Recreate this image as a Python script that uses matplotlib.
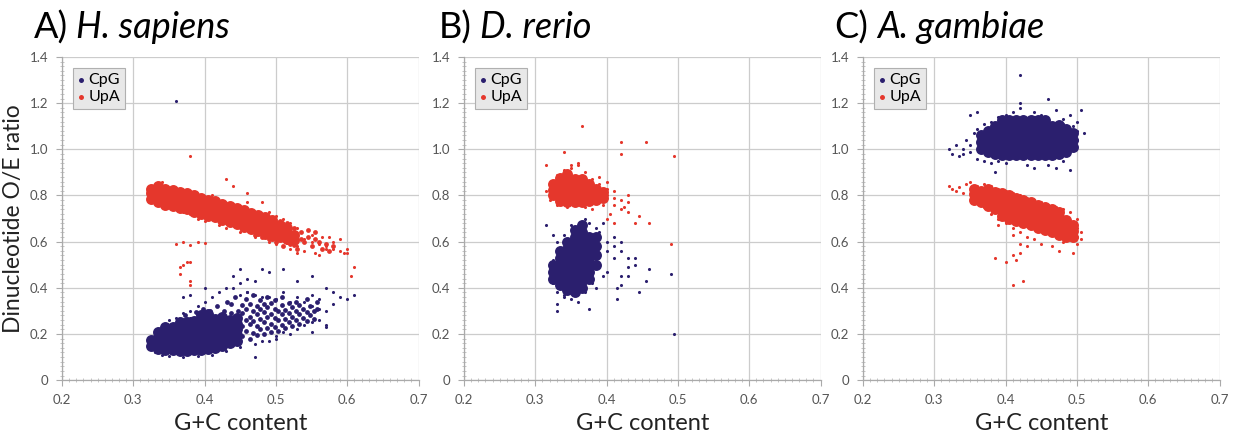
import numpy as np
import matplotlib.pyplot as plt
from matplotlib.ticker import MultipleLocator, FuncFormatter

plt.rcParams['font.family'] = ['Lato', 'DejaVu Sans']

# colours
navy = '#2b1f6e'
red = '#e5372c'

# ---------------- data ----------------
# dense cores: G+C column -> O/E values read inside the solid part of each cloud
a_upa_core = {0.325: [0.785, 0.81, 0.83], 0.335: [0.77, 0.795, 0.82, 0.84],
              0.345: [0.76, 0.785, 0.81, 0.83], 0.355: [0.755, 0.78, 0.805, 0.825],
              0.365: [0.745, 0.77, 0.795, 0.815], 0.375: [0.74, 0.765, 0.79, 0.81],
              0.385: [0.73, 0.755, 0.78, 0.80], 0.395: [0.72, 0.745, 0.77, 0.79],
              0.405: [0.71, 0.735, 0.76, 0.78], 0.415: [0.705, 0.73, 0.755, 0.775],
              0.425: [0.695, 0.72, 0.745, 0.765], 0.435: [0.685, 0.71, 0.735, 0.755],
              0.445: [0.675, 0.70, 0.725, 0.745], 0.455: [0.665, 0.69, 0.715, 0.735],
              0.465: [0.655, 0.68, 0.705, 0.725], 0.475: [0.645, 0.67, 0.695, 0.715],
              0.485: [0.635, 0.66, 0.685, 0.705], 0.495: [0.625, 0.65, 0.675, 0.695],
              0.505: [0.62, 0.645, 0.67], 0.515: [0.61, 0.635, 0.66], 0.525: [0.605, 0.63]}
a_cpg_core = {0.325: [0.15, 0.175], 0.335: [0.135, 0.16, 0.185, 0.21],
              0.345: [0.13, 0.155, 0.18, 0.205, 0.23], 0.355: [0.13, 0.155, 0.18, 0.205, 0.23],
              0.365: [0.125, 0.15, 0.175, 0.20, 0.225, 0.25],
              0.375: [0.125, 0.15, 0.175, 0.20, 0.225, 0.25],
              0.385: [0.13, 0.155, 0.18, 0.205, 0.23, 0.255],
              0.395: [0.13, 0.155, 0.18, 0.205, 0.23, 0.255, 0.28],
              0.405: [0.135, 0.16, 0.185, 0.21, 0.235, 0.26, 0.285],
              0.415: [0.14, 0.165, 0.19, 0.215, 0.24, 0.265],
              0.425: [0.15, 0.175, 0.20, 0.225, 0.25, 0.275],
              0.435: [0.16, 0.185, 0.21, 0.235, 0.26], 0.445: [0.17, 0.195, 0.22, 0.245, 0.27]}
# medium-density parts of the H. sapiens clouds
a_cpg_mid = {0.452: [0.19, 0.235, 0.29, 0.325], 0.458: [0.215, 0.26, 0.31, 0.35],
             0.463: [0.18, 0.245, 0.275, 0.33], 0.468: [0.205, 0.255, 0.30, 0.37],
             0.473: [0.195, 0.235, 0.285, 0.32], 0.478: [0.22, 0.265, 0.31, 0.345],
             0.483: [0.20, 0.25, 0.295, 0.33], 0.488: [0.225, 0.275, 0.315, 0.36],
             0.493: [0.21, 0.245, 0.285, 0.335], 0.498: [0.23, 0.27, 0.31, 0.345],
             0.503: [0.215, 0.26, 0.30], 0.508: [0.24, 0.285, 0.325, 0.36],
             0.513: [0.225, 0.265, 0.305], 0.518: [0.25, 0.29, 0.335],
             0.523: [0.235, 0.275, 0.315], 0.528: [0.26, 0.30, 0.34],
             0.533: [0.245, 0.285, 0.325], 0.538: [0.27, 0.31], 0.543: [0.255, 0.295, 0.35],
             0.548: [0.28, 0.32], 0.553: [0.265, 0.30], 0.558: [0.31, 0.34],
             0.372: [0.28], 0.388: [0.295], 0.398: [0.31], 0.407: [0.30], 0.417: [0.32],
             0.427: [0.30], 0.437: [0.29, 0.33], 0.447: [0.30], 0.442: [0.36], 0.432: [0.34]}
a_upa_mid = {0.47: [0.63], 0.48: [0.62], 0.49: [0.61], 0.50: [0.60], 0.505: [0.69],
             0.51: [0.58], 0.515: [0.68, 0.60], 0.52: [0.59], 0.525: [0.66, 0.585],
             0.53: [0.57], 0.535: [0.64, 0.61], 0.54: [0.60], 0.545: [0.62, 0.65],
             0.55: [0.58], 0.555: [0.64, 0.61], 0.56: [0.60], 0.565: [0.57], 0.57: [0.59],
             0.575: [0.56], 0.58: [0.58]}

a_upa_x = [0.335, 0.34, 0.345, 0.355, 0.36, 0.37, 0.38, 0.39, 0.40, 0.405, 0.41, 0.42, 0.43,
           0.44, 0.45, 0.46, 0.47, 0.48, 0.49, 0.50, 0.51, 0.52, 0.53, 0.54, 0.55, 0.56,
           0.57, 0.58, 0.59, 0.60, 0.61, 0.595, 0.575, 0.565, 0.55, 0.53, 0.52, 0.51, 0.50,
           0.49, 0.48, 0.46, 0.44, 0.35, 0.36, 0.37, 0.38, 0.39, 0.40, 0.42, 0.43, 0.45,
           0.47, 0.49, 0.50, 0.51, 0.52, 0.53, 0.54, 0.555, 0.56, 0.57, 0.58, 0.59, 0.60,
           0.605, 0.52, 0.53, 0.38, 0.36, 0.38, 0.39, 0.37, 0.375, 0.38, 0.365, 0.38, 0.38,
           0.365, 0.40, 0.37, 0.43, 0.46]
a_upa_y = [0.85, 0.86, 0.84, 0.83, 0.82, 0.81, 0.80, 0.79, 0.78, 0.77, 0.80, 0.76, 0.75,
           0.74, 0.73, 0.72, 0.70, 0.69, 0.68, 0.67, 0.65, 0.64, 0.62, 0.61, 0.60, 0.59,
           0.58, 0.57, 0.56, 0.55, 0.49, 0.55, 0.62, 0.62, 0.63, 0.66, 0.68, 0.70, 0.71,
           0.73, 0.77, 0.77, 0.84, 0.76, 0.74, 0.73, 0.72, 0.70, 0.69, 0.67, 0.66, 0.64,
           0.62, 0.60, 0.59, 0.58, 0.57, 0.58, 0.56, 0.55, 0.54, 0.57, 0.60, 0.61, 0.57,
           0.45, 0.60, 0.55, 0.97, 0.59, 0.585, 0.60, 0.50, 0.51, 0.51, 0.49, 0.43, 0.41,
           0.46, 0.595, 0.60, 0.87, 0.81]
a_cpg_x = [0.45, 0.45, 0.46, 0.47, 0.48, 0.49, 0.50, 0.50, 0.51, 0.51, 0.52, 0.53, 0.53,
           0.54, 0.54, 0.55, 0.55, 0.55, 0.56, 0.56, 0.56, 0.57, 0.57, 0.57, 0.58, 0.58,
           0.59, 0.60, 0.61, 0.55, 0.57, 0.55, 0.53, 0.51, 0.49, 0.48, 0.45, 0.47, 0.44,
           0.43, 0.42, 0.41, 0.40, 0.39, 0.38, 0.37, 0.36, 0.35, 0.46, 0.40, 0.38, 0.35,
           0.37, 0.39, 0.41, 0.43, 0.45, 0.47, 0.49, 0.33, 0.32, 0.34, 0.47, 0.44, 0.45,
           0.46, 0.40, 0.38, 0.37, 0.36, 0.52, 0.50, 0.48]
a_cpg_y = [0.17, 0.37, 0.38, 0.37, 0.36, 0.36, 0.35, 0.19, 0.38, 0.21, 0.34, 0.36, 0.22,
           0.34, 0.24, 0.32, 0.37, 0.25, 0.26, 0.31, 0.35, 0.24, 0.30, 0.40, 0.33, 0.38,
           0.36, 0.35, 0.37, 0.21, 0.23, 0.45, 0.43, 0.48, 0.47, 0.48, 0.48, 0.43, 0.45,
           0.40, 0.38, 0.36, 0.34, 0.32, 0.30, 0.29, 0.27, 0.26, 0.38, 0.30, 0.27, 0.105,
           0.10, 0.105, 0.11, 0.125, 0.145, 0.155, 0.17, 0.12, 0.18, 0.11, 0.10, 0.40, 0.42,
           0.44, 0.40, 0.37, 0.36, 1.21, 0.20, 0.18, 0.17]

# B) D. rerio
b_upa_core = {0.325: [0.80, 0.825, 0.85], 0.335: [0.775, 0.80, 0.825, 0.85, 0.875],
              0.345: [0.77, 0.795, 0.82, 0.845, 0.87, 0.895], 0.355: [0.77, 0.795, 0.82, 0.845, 0.87],
              0.365: [0.77, 0.795, 0.82, 0.845, 0.87], 0.375: [0.775, 0.80, 0.825, 0.85],
              0.385: [0.78, 0.805, 0.83], 0.395: [0.79, 0.815]}
b_cpg_core = {0.325: [0.44, 0.47, 0.50], 0.335: [0.41, 0.44, 0.47, 0.50, 0.53, 0.56],
              0.345: [0.39, 0.42, 0.45, 0.48, 0.51, 0.54, 0.57, 0.60],
              0.355: [0.38, 0.41, 0.44, 0.47, 0.50, 0.53, 0.56, 0.59, 0.62, 0.65],
              0.365: [0.40, 0.43, 0.46, 0.49, 0.52, 0.55, 0.58, 0.61, 0.64, 0.67],
              0.375: [0.44, 0.47, 0.50, 0.53, 0.56, 0.59, 0.62], 0.385: [0.50, 0.54, 0.58, 0.62]}
b_upa_x = [0.32, 0.32, 0.325, 0.33, 0.34, 0.35, 0.36, 0.37, 0.38, 0.39, 0.40, 0.40, 0.395,
           0.41, 0.41, 0.42, 0.42, 0.43, 0.43, 0.44, 0.445, 0.46, 0.40, 0.41, 0.38, 0.37,
           0.345, 0.33, 0.315, 0.34, 0.365, 0.42, 0.42, 0.455, 0.495, 0.49, 0.425, 0.43,
           0.40, 0.39, 0.315, 0.35, 0.36, 0.41, 0.405]
b_upa_y = [0.84, 0.78, 0.86, 0.89, 0.91, 0.92, 0.93, 0.90, 0.87, 0.85, 0.83, 0.80, 0.76,
           0.79, 0.76, 0.74, 0.78, 0.80, 0.73, 0.68, 0.71, 0.68, 0.70, 0.68, 0.74, 0.75,
           0.75, 0.76, 0.93, 0.99, 1.10, 1.03, 0.98, 1.03, 0.97, 0.59, 0.75, 0.77,
           0.86, 0.88, 0.82, 0.93, 0.94, 0.82, 0.72]
b_cpg_x = [0.325, 0.325, 0.33, 0.33, 0.34, 0.35, 0.36, 0.37, 0.38, 0.38, 0.39, 0.39, 0.39,
           0.40, 0.40, 0.395, 0.37, 0.35, 0.34, 0.41, 0.42, 0.42, 0.41, 0.43, 0.40, 0.42,
           0.43, 0.44, 0.46, 0.455, 0.445, 0.415, 0.42, 0.385, 0.415, 0.375, 0.33, 0.33,
           0.49, 0.495, 0.315, 0.44, 0.43, 0.41, 0.325, 0.395, 0.385, 0.375, 0.32, 0.34]
b_cpg_y = [0.42, 0.52, 0.38, 0.60, 0.36, 0.35, 0.34, 0.38, 0.42, 0.46, 0.50, 0.55, 0.64,
           0.60, 0.56, 0.68, 0.70, 0.67, 0.63, 0.62, 0.60, 0.56, 0.53, 0.53, 0.47, 0.45,
           0.45, 0.53, 0.48, 0.43, 0.38, 0.40, 0.41, 0.40, 0.35, 0.31, 0.30, 0.33,
           0.46, 0.20, 0.67, 0.50, 0.49, 0.58, 0.63, 0.45, 0.66, 0.68, 0.48, 0.37]

# C) A. gambiae
c_cpg_core = {0.365: [1.00, 1.03, 1.06], 0.375: [0.99, 1.02, 1.05, 1.08],
              0.385: [0.98, 1.01, 1.04, 1.07, 1.10],
              0.395: [0.975, 1.00, 1.025, 1.05, 1.075, 1.10, 1.125],
              0.405: [0.975, 1.00, 1.025, 1.05, 1.075, 1.10, 1.125],
              0.415: [0.975, 1.00, 1.025, 1.05, 1.075, 1.10, 1.125],
              0.425: [0.975, 1.00, 1.025, 1.05, 1.075, 1.10, 1.125],
              0.435: [0.975, 1.00, 1.025, 1.05, 1.075, 1.10, 1.125],
              0.445: [0.975, 1.00, 1.025, 1.05, 1.075, 1.10, 1.125],
              0.455: [0.975, 1.00, 1.025, 1.05, 1.075, 1.10, 1.125],
              0.465: [0.975, 1.00, 1.025, 1.05, 1.075, 1.10],
              0.475: [0.98, 1.005, 1.03, 1.055, 1.08, 1.105],
              0.485: [0.99, 1.015, 1.04, 1.065, 1.09], 0.495: [1.01, 1.04, 1.07]}
c_upa_core = {0.355: [0.78, 0.805, 0.83], 0.365: [0.77, 0.795, 0.82],
              0.375: [0.755, 0.78, 0.805, 0.83], 0.385: [0.74, 0.765, 0.79, 0.815],
              0.395: [0.71, 0.735, 0.76, 0.785, 0.81], 0.405: [0.70, 0.725, 0.75, 0.775, 0.80],
              0.415: [0.69, 0.715, 0.74, 0.765, 0.79], 0.425: [0.68, 0.705, 0.73, 0.755, 0.78],
              0.435: [0.67, 0.695, 0.72, 0.745, 0.77], 0.445: [0.66, 0.685, 0.71, 0.735, 0.76],
              0.455: [0.65, 0.675, 0.70, 0.725, 0.75], 0.465: [0.64, 0.665, 0.69, 0.715, 0.74],
              0.475: [0.63, 0.655, 0.68, 0.705, 0.73], 0.485: [0.62, 0.645, 0.67, 0.695],
              0.495: [0.62, 0.645, 0.67]}
c_cpg_x = [0.32, 0.325, 0.33, 0.335, 0.34, 0.345, 0.35, 0.35, 0.355, 0.36, 0.36, 0.37,
           0.37, 0.38, 0.38, 0.39, 0.39, 0.40, 0.40, 0.41, 0.42, 0.42, 0.43, 0.44, 0.44,
           0.45, 0.46, 0.46, 0.47, 0.48, 0.48, 0.49, 0.49, 0.495, 0.50, 0.50, 0.505,
           0.50, 0.51, 0.49, 0.385, 0.35, 0.36, 0.42, 0.44, 0.47, 0.48, 0.49, 0.34]
c_cpg_y = [1.00, 0.98, 1.02, 0.97, 1.00, 1.04, 1.02, 0.99, 1.07, 1.09, 0.96, 1.11,
           0.95, 0.94, 1.12, 1.14, 0.95, 0.94, 1.15, 1.16, 1.18, 1.20, 0.93, 1.14, 0.92,
           1.15, 1.22, 0.93, 0.92, 1.13, 0.95, 1.15, 1.00, 1.10, 1.04, 1.08, 1.17,
           1.12, 1.07, 0.91, 0.90, 1.15, 1.16, 1.32, 1.16, 1.17, 1.11, 1.05, 0.98]
c_upa_x = [0.32, 0.325, 0.33, 0.335, 0.34, 0.345, 0.35, 0.36, 0.37, 0.38, 0.39, 0.40,
           0.41, 0.42, 0.43, 0.44, 0.45, 0.46, 0.47, 0.48, 0.49, 0.50, 0.50, 0.50, 0.50,
           0.495, 0.49, 0.48, 0.475, 0.465, 0.45, 0.44, 0.43, 0.42, 0.41, 0.40, 0.39,
           0.38, 0.37, 0.36, 0.39, 0.42, 0.43, 0.41, 0.385, 0.40, 0.41, 0.415, 0.42,
           0.41, 0.425, 0.505, 0.505]
c_upa_y = [0.84, 0.83, 0.82, 0.835, 0.81, 0.85, 0.86, 0.84, 0.85, 0.84, 0.83, 0.82,
           0.81, 0.80, 0.79, 0.78, 0.77, 0.76, 0.75, 0.74, 0.73, 0.70, 0.66, 0.62, 0.59,
           0.55, 0.61, 0.60, 0.56, 0.58, 0.59, 0.61, 0.62, 0.64, 0.66, 0.68, 0.70,
           0.72, 0.75, 0.77, 0.67, 0.59, 0.58, 0.63, 0.53, 0.51, 0.54, 0.52, 0.55,
           0.41, 0.43, 0.61, 0.64]


def flat(cols):
    xs = [x for x, ys in cols.items() for _ in ys]
    ys = [y for ys in cols.values() for y in ys]
    return xs, ys


panels = [
    ('A)', 'H. sapiens', a_cpg_core, a_cpg_mid, a_cpg_x, a_cpg_y,
     a_upa_core, a_upa_mid, a_upa_x, a_upa_y),
    ('B)', 'D. rerio', b_cpg_core, {}, b_cpg_x, b_cpg_y,
     b_upa_core, {}, b_upa_x, b_upa_y),
    ('C)', 'A. gambiae', c_cpg_core, {}, c_cpg_x, c_cpg_y,
     c_upa_core, {}, c_upa_x, c_upa_y),
]

fig = plt.figure(figsize=(12.38, 4.42), dpi=100)
lefts = [0.0501, 0.3748, 0.6971]
title_dx = [-0.08, -0.07, -0.08]
core_size = 62
mid_size = 12
dot_size = 5

for i, (lab, sp, ccore, cmid, cx, cy, ucore, umid, ux, uy) in enumerate(panels):
    ax = fig.add_axes([lefts[i], 0.140, 0.2880, 0.731])
    ax.scatter(*flat(ccore), s=core_size, color=navy, lw=0, zorder=3)
    ax.scatter(*flat(cmid), s=mid_size, color=navy, lw=0, zorder=3)
    h1 = ax.scatter(cx, cy, s=dot_size, color=navy, lw=0, zorder=3, label='CpG')
    ax.scatter(*flat(ucore), s=core_size, color=red, lw=0, zorder=4)
    ax.scatter(*flat(umid), s=mid_size, color=red, lw=0, zorder=4)
    h2 = ax.scatter(ux, uy, s=dot_size, color=red, lw=0, zorder=4, label='UpA')

    ax.set_xlim(0.2, 0.7)
    ax.set_ylim(0, 1.4)
    ax.xaxis.set_major_locator(MultipleLocator(0.1))
    ax.yaxis.set_major_locator(MultipleLocator(0.2))
    ax.xaxis.set_minor_locator(MultipleLocator(0.01))
    ax.yaxis.set_minor_locator(MultipleLocator(0.02))
    ax.xaxis.set_major_formatter(FuncFormatter(lambda v, p: f'{v:.1f}'))
    ax.yaxis.set_major_formatter(FuncFormatter(lambda v, p: '0' if abs(v) < 1e-9 else f'{v:.1f}'))
    ax.grid(True, which='major', color='#cccccc', lw=0.9)
    ax.set_axisbelow(True)
    for s in ['top', 'right']:
        ax.spines[s].set_visible(False)
    for s in ['left', 'bottom']:
        ax.spines[s].set_color('#aaaaaa')
        ax.spines[s].set_linewidth(0.9)
    ax.tick_params(which='major', length=4, color='#aaaaaa', labelsize=9.5,
                   labelcolor='#555555', pad=6)
    ax.tick_params(which='minor', length=2.5, direction='inout', color='#bbbbbb')

    leg = ax.legend(handles=[h1, h2], loc='upper left', bbox_to_anchor=(0.03, 0.965),
                    fontsize=11.5, markerscale=1.6, handlelength=0.4, handletextpad=0.3,
                    borderpad=0.3, labelspacing=0.15, fancybox=False, framealpha=1,
                    borderaxespad=0)
    leg.get_frame().set_facecolor('#e8e8e8')
    leg.get_frame().set_edgecolor('#b0b0b0')
    leg.get_frame().set_linewidth(0.8)

    ax.set_xlabel('G+C content', fontsize=17, labelpad=5, color='#222222')
    if i == 0:
        ax.set_ylabel('Dinucleotide O/E ratio', fontsize=16.5, labelpad=4, color='#222222')

    t = ax.text(title_dx[i], 1.058, lab, transform=ax.transAxes, fontsize=26,
                va='baseline', ha='left')
    ax.annotate(sp, xy=(1, 0), xycoords=t, xytext=(6, 0), textcoords='offset points',
                fontsize=26, style='italic', va='bottom', ha='left')

fig.savefig('out.png', dpi=100)
